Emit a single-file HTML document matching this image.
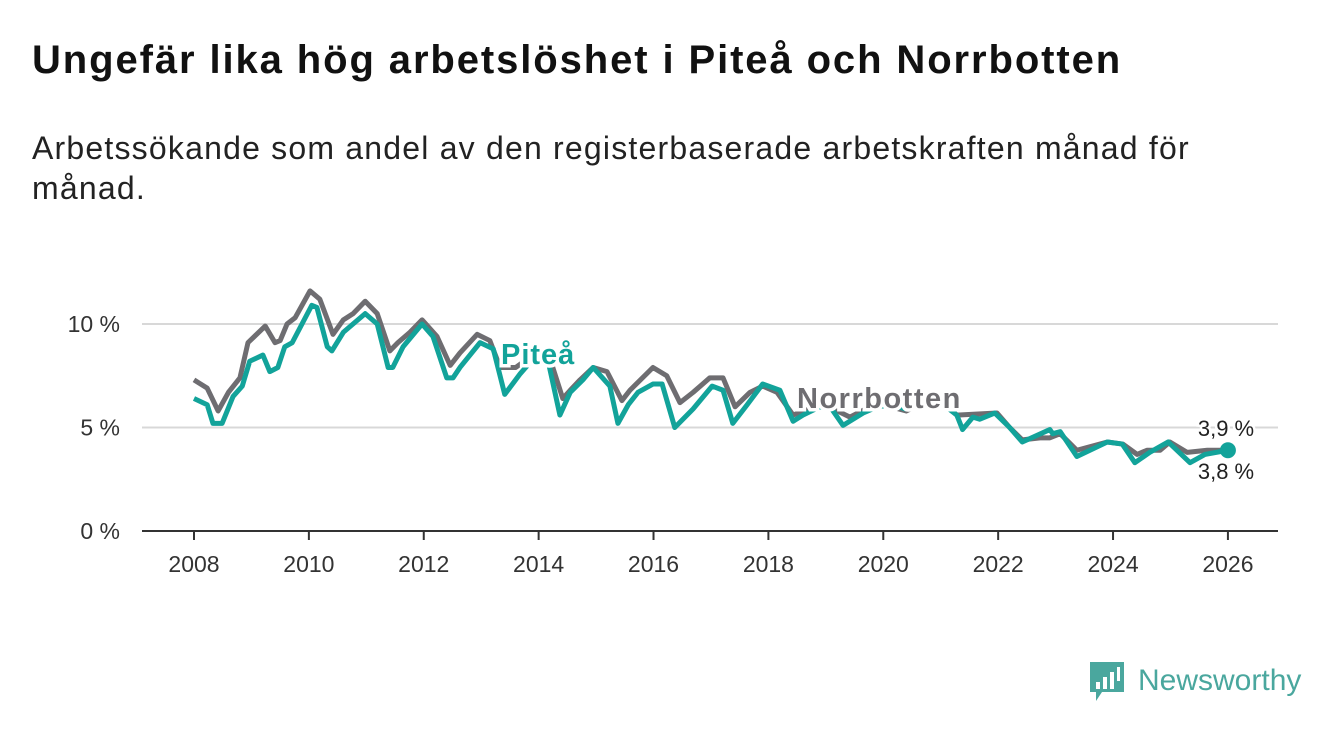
<!DOCTYPE html>
<html><head><meta charset="utf-8"><style>
body{margin:0;background:#fff;width:1340px;height:734px;overflow:hidden;font-family:"Liberation Sans",sans-serif}
h1{position:absolute;left:32px;top:38px;margin:0;font-size:40px;font-weight:bold;color:#111;letter-spacing:1.9px;white-space:nowrap}
p{position:absolute;left:32px;top:128px;margin:0;font-size:32px;line-height:40px;color:#222;width:1290px;letter-spacing:1.2px}
svg{position:absolute;left:0;top:0}
</style></head><body>
<h1>Ungefär lika hög arbetslöshet i Piteå och Norrbotten</h1>
<p>Arbetssökande som andel av den registerbaserade arbetskraften månad för<br>månad.</p>
<svg id="chart" width="1340" height="734"></svg>
<script>
const yTicks=[0,5,10];
const xTicks=[2008,2010,2012,2014,2016,2018,2020,2022,2024,2026];
const norrDates=[2008.0,2008.23,2008.42,2008.6,2008.8,2008.94,2009.24,2009.41,2009.5,2009.62,2009.76,2010.02,2010.19,2010.42,2010.6,2010.77,2010.98,2011.19,2011.41,2011.55,2011.76,2011.97,2012.23,2012.46,2012.63,2012.93,2013.15,2013.33,2013.6,2014.0,2014.2,2014.42,2014.55,2014.72,2014.95,2015.19,2015.45,2015.59,2015.99,2016.23,2016.46,2016.69,2016.98,2017.21,2017.42,2017.68,2017.9,2018.15,2018.43,2018.8,2019.0,2019.2,2019.42,2019.7,2020.0,2020.4,2020.7,2021.0,2021.28,2021.98,2022.2,2022.42,2022.73,2022.9,2023.08,2023.37,2023.9,2024.17,2024.42,2024.59,2024.82,2024.99,2025.29,2025.64,2026.0];
const norrValues=[7.3,6.9,5.8,6.7,7.4,9.1,9.9,9.1,9.2,10.0,10.3,11.6,11.2,9.5,10.2,10.5,11.1,10.5,8.7,9.1,9.6,10.2,9.4,8.0,8.6,9.5,9.2,7.9,7.9,8.7,8.3,6.4,6.8,7.3,7.9,7.7,6.3,6.8,7.9,7.5,6.2,6.7,7.4,7.4,6.0,6.7,7.0,6.7,5.6,6.0,6.0,5.8,5.5,5.9,6.1,5.8,6.2,6.3,5.6,5.7,5.0,4.4,4.5,4.5,4.7,3.9,4.3,4.2,3.7,3.9,3.9,4.3,3.8,3.9,3.9];
const piteDates=[2008.0,2008.23,2008.33,2008.49,2008.68,2008.84,2008.97,2009.2,2009.32,2009.46,2009.58,2009.71,2010.05,2010.14,2010.32,2010.4,2010.6,2010.98,2011.19,2011.38,2011.46,2011.64,2011.97,2012.16,2012.4,2012.51,2012.63,2012.98,2013.21,2013.41,2013.68,2013.9,2014.15,2014.37,2014.55,2014.77,2014.95,2015.24,2015.38,2015.56,2015.73,2015.99,2016.15,2016.37,2016.69,2017.02,2017.21,2017.38,2017.63,2017.9,2018.2,2018.43,2018.6,2018.9,2019.1,2019.3,2019.65,2019.9,2020.15,2020.38,2020.7,2021.0,2021.28,2021.38,2021.56,2021.68,2021.94,2022.2,2022.42,2022.9,2022.95,2023.08,2023.37,2023.9,2024.16,2024.38,2024.64,2024.96,2025.34,2025.6,2026.0];
const piteValues=[6.4,6.1,5.2,5.2,6.5,7.0,8.2,8.5,7.7,7.9,8.9,9.1,10.9,10.8,8.9,8.7,9.6,10.5,10.0,7.9,7.9,8.9,10.0,9.4,7.4,7.4,7.9,9.1,8.8,6.6,7.6,8.3,8.4,5.6,6.7,7.3,7.9,7.0,5.2,6.1,6.7,7.1,7.1,5.0,5.9,7.0,6.8,5.2,6.1,7.1,6.8,5.3,5.6,6.0,5.9,5.1,5.7,6.0,6.1,5.9,6.2,6.2,5.6,4.9,5.5,5.4,5.7,5.0,4.3,4.9,4.7,4.8,3.6,4.3,4.2,3.3,3.8,4.3,3.3,3.7,3.9];
const endLabels=["3,9 %","3,8 %"];
const X=v=>194+(v-2008)*57.44, Y=v=>531-v*20.7;
const NS="http://www.w3.org/2000/svg", svg=document.getElementById('chart');
function mk(t,a,txt){const e=document.createElementNS(NS,t);for(const k in a)e.setAttribute(k,a[k]);if(txt!=null)e.textContent=txt;svg.appendChild(e);return e;}
yTicks.forEach(t=>{
 if(t>0){const g=mk('line',{x1:142,x2:1278,y1:Y(t),y2:Y(t),stroke:'#d8d8d8','stroke-width':2});
 
 }
 const l=mk('text',{x:120,y:Y(t)+8,'text-anchor':'end','font-size':23,fill:'#333'},t+' %');
 
 
});
const ax=mk('line',{x1:142,x2:1278,y1:531,y2:531,stroke:'#333','stroke-width':2});


xTicks.forEach(t=>{
 const tk=mk('line',{x1:X(t),x2:X(t),y1:531,y2:540,stroke:'#333','stroke-width':2});
 
 
 const l=mk('text',{x:X(t),y:572,'text-anchor':'middle','font-size':23,fill:'#333'},t);
 
 
});
function line(d,v,c,n){const p=mk('polyline',{points:d.map((x,i)=>X(x)+','+Y(v[i])).join(' '),fill:'none',stroke:c,'stroke-width':5,'stroke-linejoin':'round'});
 
 }
line(norrDates,norrValues,'#6e6d71','norrbotten-line');
line(piteDates,piteValues,'#12a39a','pitea-line');
const dot=mk('circle',{cx:X(piteDates[piteDates.length-1]),cy:Y(piteValues[piteValues.length-1]),r:8,fill:'#12a39a'});


const lp=mk('text',{x:501,y:364,'font-size':29,'font-weight':'bold','letter-spacing':1,fill:'#12a39a',stroke:'#fff','stroke-width':7,'paint-order':'stroke'},'Piteå');


const ln=mk('text',{x:797,y:408,'font-size':29,'font-weight':'bold','letter-spacing':1.5,fill:'#6e6d71',stroke:'#fff','stroke-width':7,'paint-order':'stroke'},'Norrbotten');


const e1=mk('text',{x:1226,y:436,'text-anchor':'middle','font-size':22,fill:'#222',stroke:'#fff','stroke-width':5,'paint-order':'stroke'},endLabels[0]);


const e2=mk('text',{x:1226,y:479,'text-anchor':'middle','font-size':22,fill:'#222',stroke:'#fff','stroke-width':5,'paint-order':'stroke'},endLabels[1]);


</script>
<svg width="1340" height="734" style="pointer-events:none">
<path d="M1090 662h34v30h-22l-6 9v-9h-6z" fill="#4aa79e"/>
<rect x="1096" y="682" width="4" height="7" fill="#fff"/><rect x="1103" y="677" width="4" height="12" fill="#fff"/><rect x="1110" y="672" width="4" height="17" fill="#fff"/><rect x="1117" y="667" width="3" height="14" fill="#fff"/>
<text x="1138" y="690" font-size="30" fill="#4aa79e" font-family="Liberation Sans, sans-serif">Newsworthy</text>
</svg>
</body></html>
